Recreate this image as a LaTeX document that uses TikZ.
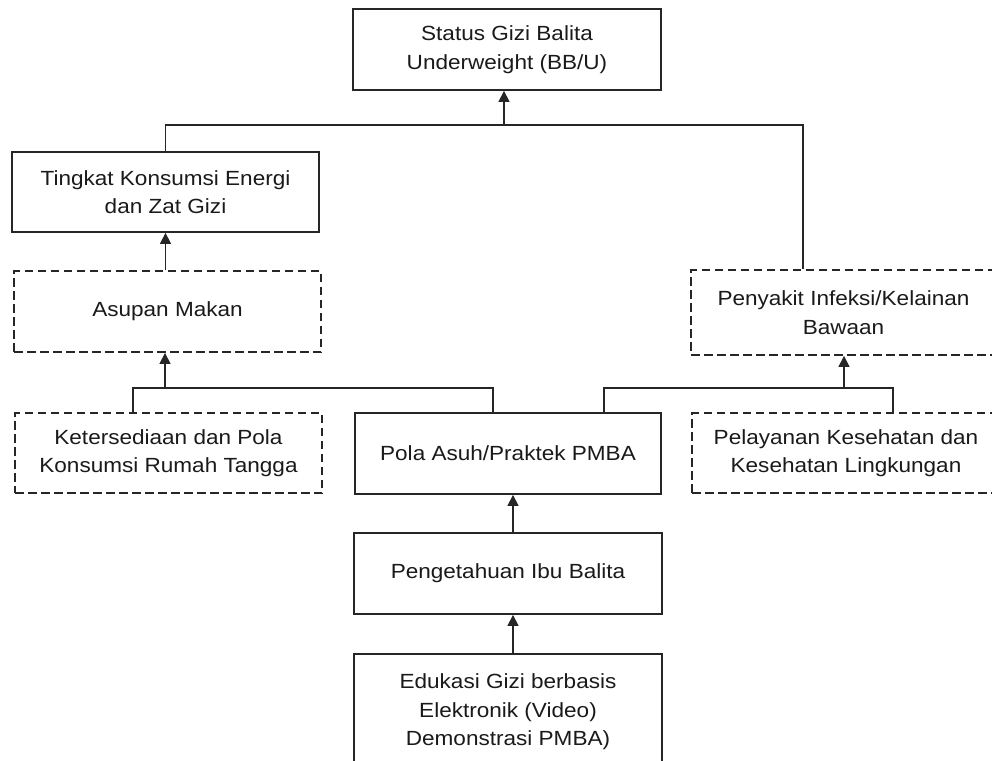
\documentclass[tikz,border=0pt]{standalone}
\usepackage{fontspec}
\setmainfont[FakeStretch=1.1]{Liberation Sans}
\usetikzlibrary{arrows.meta,calc}
\definecolor{linec}{HTML}{262626}
\definecolor{txtc}{HTML}{1A1A1A}
\begin{document}
\begin{tikzpicture}[x=1pt,y=-1pt,
  box/.style={draw=linec, line width=1.8pt, inner sep=0pt, align=center,
    text=txtc, font=\fontsize{20.5}{28.5}\selectfont},
  dbox/.style={box, dash pattern=on 8.5pt off 4.5pt},
  conn/.style={draw=linec, line width=1.3pt},
  arr/.style={conn, -{Triangle[width=11pt,length=11pt]}}]
\useasboundingbox (0,0) rectangle (992,760);
\clip (0,0) rectangle (992,760);
\fill[white] (0,0) rectangle (992,760);

\node[box, minimum width=308pt, minimum height=81pt] (A) at (507,49.5)
  {Status Gizi Balita\\Underweight (BB/U)};
\node[box, minimum width=307pt, minimum height=80pt] (B) at (165.5,192)
  {Tingkat Konsumsi Energi\\dan Zat Gizi};
\node[dbox, minimum width=307pt, minimum height=81pt] (C) at (167.5,311.5)
  {Asupan Makan};
\node[dbox, minimum width=305pt, minimum height=85pt] (D) at (843.5,312.5)
  {Penyakit Infeksi/Kelainan\\Bawaan};
\node[dbox, minimum width=307pt, minimum height=80pt] (F) at (168.5,453)
  {Ketersediaan dan Pola\\Konsumsi Rumah Tangga};
\node[box, minimum width=306pt, minimum height=81pt] (G) at (508,453.5)
  {Pola Asuh/Praktek PMBA};
\node[dbox, minimum width=308pt, minimum height=80pt] (E) at (846,453)
  {Pelayanan Kesehatan dan\\Kesehatan Lingkungan};
\node[box, minimum width=308pt, minimum height=81pt] (H) at (508,573.5)
  {Pengetahuan Ibu Balita};
\node[box, minimum width=308pt, minimum height=112pt, text depth=0pt] (I) at (508,710)
  {Edukasi Gizi berbasis\\Elektronik (Video)\\Demonstrasi PMBA)};

% top junction
\coordinate (jA) at (504,125);
\draw[conn] (B.north) |- (jA) -| ([xshift=-40.5pt]D.north);
\draw[arr] (jA) -- (A.south -| jA);

% Asupan -> Tingkat
\draw[arr] (B.south |- C.north) -- (B.south);

% Ketersediaan, Pola -> Asupan
\coordinate (jC) at (165,388);
\draw[conn] ([xshift=-35.5pt]F.north) |- ([xshift=-15pt]G.north |- jC) -- ([xshift=-15pt]G.north);
\draw[arr] (jC) -- (C.south -| jC);

% Pola, Pelayanan -> Penyakit
\coordinate (jD) at (844,388);
\draw[conn] ([xshift=96pt]G.north) |- ([xshift=47pt]E.north |- jD) -- ([xshift=47pt]E.north);
\draw[arr] (jD) -- (D.south -| jD);

% Pengetahuan -> Pola, Edukasi -> Pengetahuan
\draw[arr] ([xshift=5pt]H.north) -- ([xshift=5pt]G.south);
\draw[arr] ([xshift=5pt]I.north) -- ([xshift=5pt]H.south);
\end{tikzpicture}
\end{document}
